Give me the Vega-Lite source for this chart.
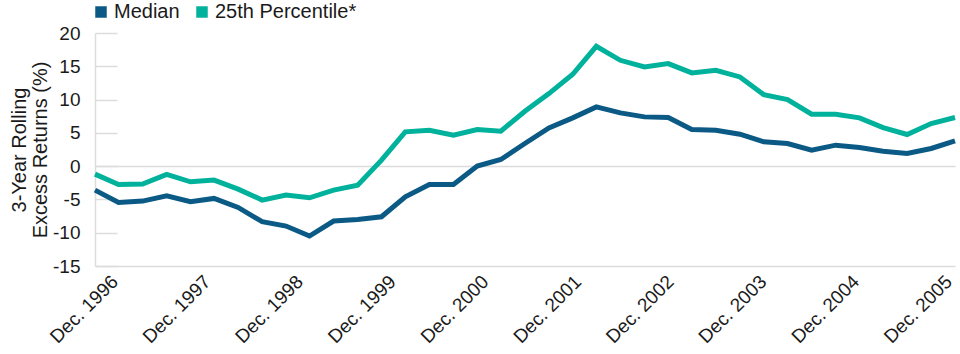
{
  "$schema": "https://vega.github.io/schema/vega-lite/v6.json",
  "width": 860,
  "height": 233,
  "autosize": "none",
  "padding": {"left": 95, "top": 33, "right": 5, "bottom": 88},
  "background": "white",
  "config": {
    "font": "Liberation Sans",
    "view": {"stroke": null},
    "axis": {"labelFont": "Liberation Sans", "titleFont": "Liberation Sans", "labelColor": "#1a1a1a", "titleColor": "#1a1a1a"}
  },
  "data": {
    "values": [
      {"date": "1996-12-15", "Median": -3.6, "25th Percentile*": -1.2},
      {"date": "1997-03-15", "Median": -5.45, "25th Percentile*": -2.75},
      {"date": "1997-06-15", "Median": -5.25, "25th Percentile*": -2.7},
      {"date": "1997-09-15", "Median": -4.45, "25th Percentile*": -1.25},
      {"date": "1997-12-15", "Median": -5.35, "25th Percentile*": -2.35},
      {"date": "1998-03-15", "Median": -4.85, "25th Percentile*": -2.1},
      {"date": "1998-06-15", "Median": -6.2, "25th Percentile*": -3.45},
      {"date": "1998-09-15", "Median": -8.35, "25th Percentile*": -5.1},
      {"date": "1998-12-15", "Median": -9.0, "25th Percentile*": -4.35},
      {"date": "1999-03-15", "Median": -10.5, "25th Percentile*": -4.75},
      {"date": "1999-06-15", "Median": -8.25, "25th Percentile*": -3.6},
      {"date": "1999-09-15", "Median": -8.0, "25th Percentile*": -2.85},
      {"date": "1999-12-15", "Median": -7.6, "25th Percentile*": 0.9},
      {"date": "2000-03-15", "Median": -4.6, "25th Percentile*": 5.15},
      {"date": "2000-06-15", "Median": -2.75, "25th Percentile*": 5.4},
      {"date": "2000-09-15", "Median": -2.75, "25th Percentile*": 4.65},
      {"date": "2000-12-15", "Median": 0.0, "25th Percentile*": 5.5},
      {"date": "2001-03-15", "Median": 1.0, "25th Percentile*": 5.25},
      {"date": "2001-06-15", "Median": 3.4, "25th Percentile*": 8.25},
      {"date": "2001-09-15", "Median": 5.75, "25th Percentile*": 10.9},
      {"date": "2001-12-15", "Median": 7.25, "25th Percentile*": 13.8},
      {"date": "2002-03-15", "Median": 8.9, "25th Percentile*": 18.0},
      {"date": "2002-06-15", "Median": 8.0, "25th Percentile*": 15.9},
      {"date": "2002-09-15", "Median": 7.4, "25th Percentile*": 14.9},
      {"date": "2002-12-15", "Median": 7.3, "25th Percentile*": 15.4},
      {"date": "2003-03-15", "Median": 5.5, "25th Percentile*": 14.0},
      {"date": "2003-06-15", "Median": 5.4, "25th Percentile*": 14.4},
      {"date": "2003-09-15", "Median": 4.8, "25th Percentile*": 13.4},
      {"date": "2003-12-15", "Median": 3.65, "25th Percentile*": 10.75},
      {"date": "2004-03-15", "Median": 3.4, "25th Percentile*": 10.0},
      {"date": "2004-06-15", "Median": 2.4, "25th Percentile*": 7.8},
      {"date": "2004-09-15", "Median": 3.15, "25th Percentile*": 7.8},
      {"date": "2004-12-15", "Median": 2.8, "25th Percentile*": 7.25},
      {"date": "2005-03-15", "Median": 2.25, "25th Percentile*": 5.8},
      {"date": "2005-06-15", "Median": 1.9, "25th Percentile*": 4.75},
      {"date": "2005-09-15", "Median": 2.65, "25th Percentile*": 6.4},
      {"date": "2005-12-15", "Median": 3.8, "25th Percentile*": 7.3}
    ]
  },
  "transform": [
    {"fold": ["Median", "25th Percentile*"], "as": ["series", "value"]}
  ],
  "mark": {"type": "line", "strokeWidth": 5, "strokeJoin": "miter", "strokeCap": "butt"},
  "encoding": {
    "x": {
      "field": "date",
      "type": "temporal",
      "scale": {"type": "utc", "nice": false},
      "axis": {
        "title": null,
        "values": [
          {"year": 1996, "month": 12, "date": 15, "utc": true},
          {"year": 1997, "month": 12, "date": 15, "utc": true},
          {"year": 1998, "month": 12, "date": 15, "utc": true},
          {"year": 1999, "month": 12, "date": 15, "utc": true},
          {"year": 2000, "month": 12, "date": 15, "utc": true},
          {"year": 2001, "month": 12, "date": 15, "utc": true},
          {"year": 2002, "month": 12, "date": 15, "utc": true},
          {"year": 2003, "month": 12, "date": 15, "utc": true},
          {"year": 2004, "month": 12, "date": 15, "utc": true},
          {"year": 2005, "month": 12, "date": 15, "utc": true}
        ],
        "labelExpr": "utcFormat(datum.value, '%b. %Y')",
        "labelAngle": -45,
        "labelAlign": "right",
        "labelBaseline": "top",
        "labelFontSize": 19,
        "labelOverlap": false,
        "labelBound": false,
        "labelFlush": false,
        "ticks": false,
        "labelPadding": 6,
        "labelOffset": {"expr": "13 - 26 * datum.index"},
        "grid": true,
        "gridColor": "#dcdcdc",
        "gridWidth": 1.5,
        "gridOpacity": {"condition": {"test": "datum.index == 0", "value": 1}, "value": 0},
        "domain": true,
        "domainColor": "#dcdcdc",
        "domainWidth": 1.5
      }
    },
    "y": {
      "field": "value",
      "type": "quantitative",
      "scale": {"domain": [-15, 20], "nice": false, "zero": false},
      "axis": {
        "values": [-15, -10, -5, 0, 5, 10, 15, 20],
        "labelExpr": "datum.value < 0 ? '-' + abs(datum.value) : '' + datum.value",
        "labelOverlap": false,
        "labelBound": false,
        "labelFlush": false,
        "title": ["3-Year Rolling", "Excess Returns (%)"],
        "titleFontSize": 20,
        "titleFontWeight": "normal",
        "titleAlign": "center",
        "titleAnchor": "middle",
        "titlePadding": 2,
        "titleLineHeight": 21,
        "labelFontSize": 19,
        "offset": -22,
        "tickSize": 22,
        "labelPadding": 15,
        "tickColor": "#dcdcdc",
        "tickWidth": 1.5,
        "domain": false,
        "grid": true,
        "gridColor": "#dcdcdc",
        "gridWidth": 1.5,
        "gridOpacity": {"condition": {"test": "datum.value == 0", "value": 1}, "value": 0}
      }
    },
    "color": {
      "field": "series",
      "type": "nominal",
      "scale": {"domain": ["Median", "25th Percentile*"], "range": ["#0b5a86", "#00b19c"]},
      "legend": {
        "title": null,
        "orient": "none",
        "direction": "horizontal",
        "legendX": -4,
        "legendY": -31,
        "symbolType": "square",
        "symbolSize": 132,
        "symbolStrokeWidth": 0,
        "labelFontSize": 20,
        "labelColor": "#1a1a1a",
        "columnPadding": 12,
        "labelOffset": 3,
        "encode": {"symbols": {"update": {"fill": {"scale": "color", "field": "value"}, "stroke": {"value": "transparent"}, "opacity": {"value": 1}}}}
      }
    },
    "sort": {"field": "date"}
  }
}
